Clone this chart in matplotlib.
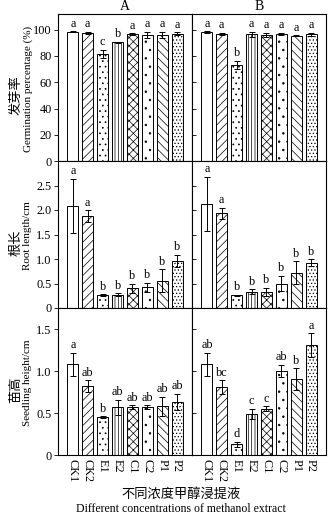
import matplotlib
matplotlib.use("Agg")
import matplotlib.pyplot as plt
import numpy as np

plt.rcParams['font.family'] = ['Liberation Serif', 'Noto Sans CJK SC']
plt.rcParams['hatch.linewidth'] = 0.5
plt.rcParams['axes.linewidth'] = 0.8

categories = ["CK1", "CK2", "E1", "E2", "C1", "C2", "P1", "P2"]
hatches = ["", "////", "...", "|||||", "xxxx", "..", "\\\\\\\\", "....."]

# Germination percentage (%)
germ_A = [98.5, 97.5, 81.5, 90.3, 96.6, 95.8, 95.8, 97.0]
germ_A_err = [0.4, 0.8, 3.0, 0.6, 0.6, 2.4, 2.4, 1.0]
germ_A_let = ["a", "a", "c", "b", "a", "a", "a", "a"]
germ_B = [98.3, 96.9, 73.2, 96.6, 96.0, 96.8, 95.4, 96.6]
germ_B_err = [0.5, 1.0, 3.0, 2.0, 1.5, 1.0, 0.3, 1.0]
germ_B_let = ["a", "a", "b", "a", "a", "a", "a", "a"]

# Root length (cm)
root_A = [2.08, 1.87, 0.26, 0.27, 0.40, 0.42, 0.56, 0.96]
root_A_err = [0.55, 0.12, 0.02, 0.03, 0.10, 0.09, 0.23, 0.12]
root_A_let = ["a", "a", "b", "b", "b", "b", "b", "b"]
root_B = [2.13, 1.93, 0.26, 0.33, 0.33, 0.50, 0.72, 0.92]
root_B_err = [0.55, 0.11, 0.01, 0.05, 0.08, 0.15, 0.23, 0.07]
root_B_let = ["a", "a", "b", "b", "b", "b", "b", "b"]

# Seedling height (cm)
seed_A = [1.08, 0.82, 0.45, 0.57, 0.57, 0.57, 0.58, 0.63]
seed_A_err = [0.14, 0.07, 0.01, 0.09, 0.02, 0.02, 0.11, 0.10]
seed_A_let = ["a", "ab", "b", "ab", "ab", "ab", "ab", "ab"]
seed_B = [1.08, 0.81, 0.13, 0.49, 0.55, 1.00, 0.90, 1.31]
seed_B_err = [0.14, 0.08, 0.03, 0.06, 0.03, 0.07, 0.13, 0.14]
seed_B_let = ["ab", "bc", "d", "c", "c", "ab", "b", "a"]

rows = [
    dict(A=(germ_A, germ_A_err, germ_A_let), B=(germ_B, germ_B_err, germ_B_let),
         ylim=112, ticks=[0, 20, 40, 60, 80, 100], ticklabels=["0", "20", "40", "60", "80", "100"],
         cn="发芽率", en="Germination percentage (%)"),
    dict(A=(root_A, root_A_err, root_A_let), B=(root_B, root_B_err, root_B_let),
         ylim=3.0, ticks=[0, 0.5, 1.0, 1.5, 2.0, 2.5], ticklabels=["0", "0.5", "1.0", "1.5", "2.0", "2.5"],
         cn="根长", en="Root length/cm"),
    dict(A=(seed_A, seed_A_err, seed_A_let), B=(seed_B, seed_B_err, seed_B_let),
         ylim=1.75, ticks=[0, 0.5, 1.0, 1.5], ticklabels=["0", "0.5", "1.0", "1.5"],
         cn="苗高", en="Seedling height/cm"),
]

W, H = 333, 520
fig = plt.figure(figsize=(W / 100, H / 100), dpi=100)

left_px, mid_px, right_px = 58, 192, 326
top_px, bot_px = 14, 455
row_h = (bot_px - top_px) / 3

x = np.arange(len(categories))
cjk = ['Noto Sans CJK SC', 'DejaVu Sans']
serif = ['Liberation Serif']

for r, row in enumerate(rows):
    y0 = top_px + r * row_h
    for c, key in enumerate(["A", "B"]):
        lp = left_px if c == 0 else mid_px
        rp = mid_px if c == 0 else right_px
        ax = fig.add_axes([lp / W, 1 - (y0 + row_h) / H, (rp - lp) / W, row_h / H])
        vals, errs, lets = row[key]
        ax.bar(x, vals, width=0.74, color="white", edgecolor="black",
               linewidth=0.7, hatch=hatches, zorder=2)
        ax.errorbar(x, vals, yerr=errs, fmt="none", ecolor="black",
                    elinewidth=0.7, capsize=2.2, capthick=0.7, zorder=3)
        for xi, v, e, l in zip(x, vals, errs, lets):
            ax.annotate(l, (xi, v + e), xytext=(0, 1.2), textcoords="offset points",
                        ha="center", va="bottom", fontsize=8.8, family=serif)
        ax.set_xlim(-1, 8)
        ax.set_ylim(0, row["ylim"])
        ax.set_yticks(row["ticks"])
        if c == 0:
            ax.set_yticklabels(row["ticklabels"], fontsize=8.8, family=serif)
            ax.tick_params(axis="y", direction="out", length=3, width=0.6, pad=1.5)
        else:
            ax.set_yticklabels([])
            ax.tick_params(axis="y", direction="in", length=3, width=0.6)
        ax.set_xticks(x)
        if r == 2:
            ax.set_xticklabels(categories, rotation=-90, fontsize=8.8, family=serif)
            ax.tick_params(axis="x", length=0, pad=3)
        else:
            ax.set_xticklabels([])
            ax.tick_params(axis="x", length=0)
        if r == 0:
            ax.set_title(key, fontsize=10, family=serif, pad=3)
    yc = y0 + row_h / 2
    fig.text(16 / W, 1 - (yc + 8) / H, row["cn"], rotation=90, ha="center", va="center",
             fontsize=9.5, family=cjk)
    fig.text(28 / W, 1 - (yc + 1) / H, row["en"], rotation=90, ha="center", va="center",
             fontsize=8, family=serif)

fig.text(181 / W, 1 - 494 / H, "不同浓度甲醇浸提液", ha="center", va="center", fontsize=9.5, family=cjk)
fig.text(181 / W, 1 - 509 / H, "Different concentrations of methanol extract", ha="center",
         va="center", fontsize=8.5, family=serif)

fig.savefig("out.png", dpi=100)
